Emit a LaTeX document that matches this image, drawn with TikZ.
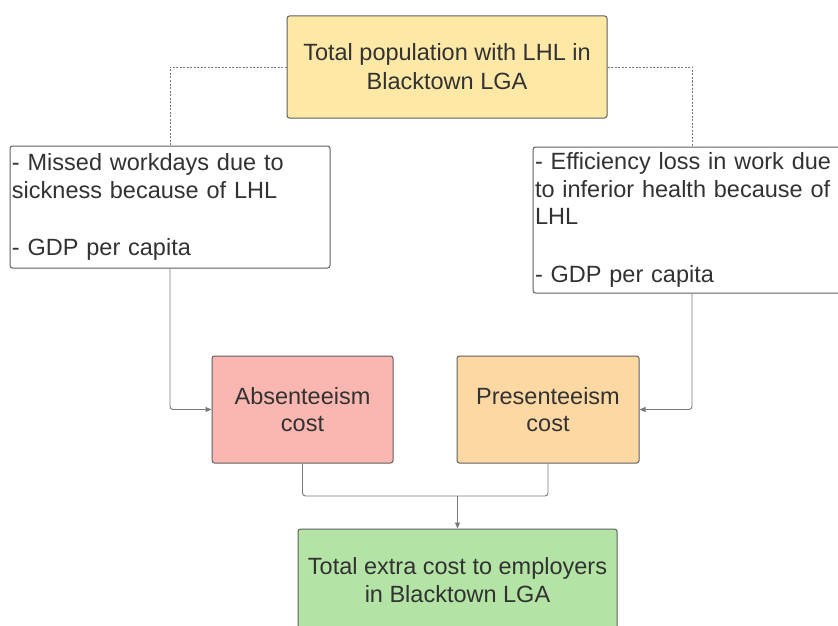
\documentclass[tikz,border=0pt]{standalone}
\usepackage{fontspec}
\setmainfont{Liberation Sans}
\usepackage{xcolor}
\definecolor{amarillocl}{RGB}{253, 232, 166}
\definecolor{rojocl}{RGB}{250, 182, 176}
\definecolor{naranjacl}{RGB}{253, 216, 162}
\definecolor{verdecl}{RGB}{179, 228, 165}
\definecolor{bordecl}{RGB}{95, 95, 95}
\definecolor{lineacl}{RGB}{120, 120, 120}
\definecolor{textocl}{RGB}{50, 50, 50}
\usetikzlibrary{arrows.meta, positioning}
\newcommand{\T}{\fontsize{23.5}{27.5}\selectfont}

\begin{document}
\begin{tikzpicture}[x=1pt, y=-1pt,
    caja/.style={draw=bordecl, line width=1pt, rounded corners=2.5pt, text=textocl, inner sep=1.5pt, font=\T},
    flecha/.style={draw=lineacl, line width=0.9pt, rounded corners=3pt, -{Triangle[length=6pt, width=5pt]}},
    linea/.style={draw=lineacl, line width=0.9pt, rounded corners=3pt},
    punteada/.style={draw=lineacl, line width=0.8pt, dash pattern=on 2pt off 1.5pt}]
    \clip (0,0) rectangle (838,626);
    \useasboundingbox (0,0) rectangle (838,626);
    \fill[white] (0,0) rectangle (838,626);

    % Caja superior
    \node[caja, fill=amarillocl, minimum width=320pt, minimum height=102pt, align=center] (pob) at (447,67)
        {Total population with LHL in\\[1.5pt]Blacktown LGA};

    %######## Datos #############
    \node[caja, fill=white, minimum width=320pt, minimum height=122pt, text width=316pt, align=left] (aus) at (170,207)
        {- Missed workdays due to\\sickness because of LHL\\[30pt]- GDP per capita};
    \node[caja, fill=white, minimum width=318pt, minimum height=146pt, text width=314pt, align=left] (efi) at (692,220)
        {- Efficiency loss in work due\\to inferior health because of\\LHL\\[30pt]- GDP per capita};

    %######## Costes #############
    \node[caja, fill=rojocl, minimum width=181pt, minimum height=107pt, align=center] (abs) at (302.5,409.5)
        {Absenteeism\\cost};
    \node[caja, fill=naranjacl, minimum width=182pt, minimum height=107pt, align=center] (pre) at (548,409.5)
        {Presenteeism\\cost};

    % Caja final
    \node[caja, fill=verdecl, minimum width=319pt, minimum height=102pt, align=center] (tot) at (457.5,580)
        {Total extra cost to employers\\in Blacktown LGA};

    %######## Conectores #############
    \draw[punteada] (pob.west) -| (aus.north);
    \draw[punteada] (pob.east) -| (efi.north);
    \draw[flecha] (aus.south) |- (abs.west);
    \draw[flecha] (efi.south) |- (pre.east);
    \coordinate (union) at (457.5,496);
    \draw[linea] (abs.south) |- (union);
    \draw[linea] (pre.south) |- (union);
    \draw[flecha] (union) -- (tot.north);
\end{tikzpicture}
\end{document}
